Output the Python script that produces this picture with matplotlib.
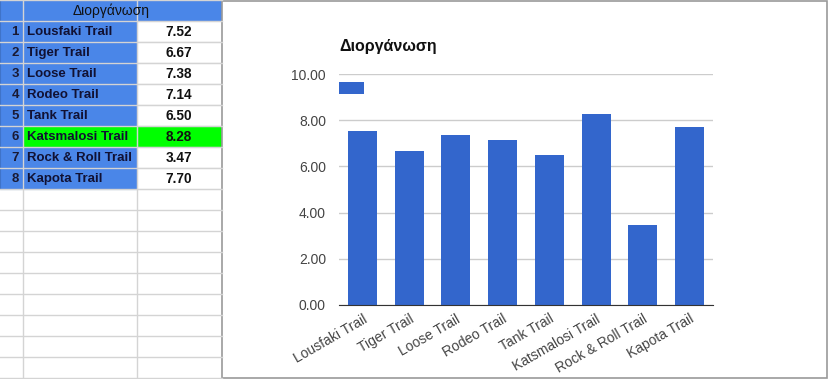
import matplotlib
matplotlib.use("Agg")
import matplotlib.pyplot as plt
from matplotlib.patches import Rectangle, Patch

plt.rcParams['font.family'] = ['Liberation Sans', 'DejaVu Sans']

title = "Διοργάνωση"
row_numbers = [1, 2, 3, 4, 5, 6, 7, 8]
trails = ["Lousfaki Trail", "Tiger Trail", "Loose Trail", "Rodeo Trail",
          "Tank Trail", "Katsmalosi Trail", "Rock & Roll Trail", "Kapota Trail"]
scores = [7.52, 6.67, 7.38, 7.14, 6.50, 8.28, 3.47, 7.70]
highlight_index = 5
yticks = [0, 2, 4, 6, 8, 10]

W, H = 829, 379
fig = plt.figure(figsize=(W / 100, H / 100), dpi=100)

# ---- background / spreadsheet layer (pixel coordinates) ----
bg = fig.add_axes([0, 0, 1, 1])
bg.set_xlim(0, W)
bg.set_ylim(H, 0)
bg.axis('off')

blue = '#4a86e8'
green = '#00ff00'
grid = '#d4d4d4'
row_h = 21.0
col_x = [0, 23, 137, 222]

# empty grid rows
y = 0
while y < H + row_h:
    bg.plot([0, 222], [y, y], color=grid, lw=1)
    y += row_h
for cx in col_x[1:3]:
    bg.plot([cx, cx], [0, H], color=grid, lw=1)

# header
bg.add_patch(Rectangle((0, 0), 222, row_h, facecolor=blue, edgecolor='#3f73c8', lw=0.8))
bg.text(111, row_h / 2 + 0.5, title, ha='center', va='center', fontsize=10, color='#111111')

for i, (n, name, v) in enumerate(zip(row_numbers, trails, scores)):
    top = row_h * (i + 1)
    bg.add_patch(Rectangle((0, top), 23, row_h, facecolor=blue, edgecolor='#3f73c8', lw=0.8))
    name_fc = green if i == highlight_index else blue
    bg.add_patch(Rectangle((23, top), 114, row_h, facecolor=name_fc, edgecolor='#3f73c8', lw=0.8))
    val_fc = green if i == highlight_index else 'white'
    bg.add_patch(Rectangle((137, top), 85, row_h, facecolor=val_fc, edgecolor=grid, lw=0.8))
    bg.text(19, top + row_h / 2 + 0.5, str(n), ha='right', va='center',
            fontsize=9.5, fontweight='bold', color='#1a1a33')
    bg.text(27, top + row_h / 2 + 0.5, name, ha='left', va='center',
            fontsize=9.5, fontweight='bold', color='#111133')
    bg.text(179, top + row_h / 2 + 0.5, f"{v:.2f}", ha='center', va='center',
            fontsize=9.8, fontweight='bold', color='#111111')

# chart panel
bg.add_patch(Rectangle((222, 1), W - 224, H - 2.5, facecolor='white', edgecolor='#9a9a9a', lw=1.2))

# ---- chart ----
ax = fig.add_axes([339 / W, 74 / H, 374 / W, 231 / H])
x = list(range(len(trails)))
ax.bar(x, scores, width=0.62, color='#3366cc', zorder=3)
ax.set_xlim(-0.5, len(trails) - 0.5)
ax.set_ylim(0, 10)
ax.set_yticks(yticks)
ax.set_yticklabels([f"{t:.2f}" for t in yticks])
ax.set_xticks(x)
ax.set_xticklabels(trails, rotation=30, ha='right', rotation_mode='anchor')
ax.tick_params(axis='both', length=0, labelsize=10, colors='#444444')
ax.tick_params(axis='y', pad=9.4)
ax.tick_params(axis='x', pad=5)
for s in ['top', 'right', 'left']:
    ax.spines[s].set_visible(False)
ax.spines['bottom'].set_color('#333333')
ax.spines['bottom'].set_zorder(4)
ax.grid(axis='y', color='#cccccc', lw=1, zorder=0)
ax.set_axisbelow(True)
ax.patch.set_alpha(0)

fig.text(339 / W, 1 - 46 / H, title, fontsize=11.5, fontweight='bold',
         color='#111111', ha='left', va='center')

leg = ax.legend(handles=[Patch(facecolor='#3366cc')], labels=[''],
                loc='upper left', bbox_to_anchor=(0, 1 - 8 / 231),
                frameon=False, borderaxespad=0, borderpad=0,
                handlelength=1.8, handleheight=0.9, handletextpad=0)

fig.savefig('out.png', dpi=100)
